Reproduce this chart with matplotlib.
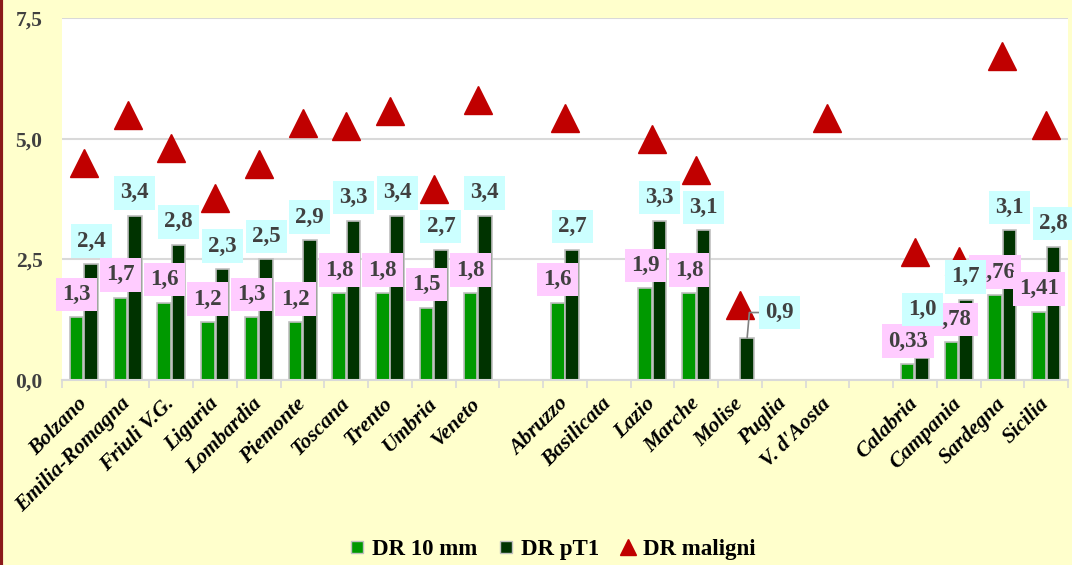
import matplotlib

matplotlib.use("Agg")
import matplotlib.pyplot as plt
from matplotlib.lines import Line2D
import numpy as np

plt.rcParams["font.family"] = ["Liberation Serif", "DejaVu Serif"]

# regions, with blank slots separating the three groups
regions = [
    "Bolzano", "Emilia-Romagna", "Friuli V.G.", "Liguria", "Lombardia", "Piemonte",
    "Toscana", "Trento", "Umbria", "Veneto", "",
    "Abruzzo", "Basilicata", "Lazio", "Marche", "Molise", "Puglia", "V. d'Aosta", "",
    "Calabria", "Campania", "Sardegna", "Sicilia",
]
nan = np.nan
dr_10mm = [1.3, 1.7, 1.6, 1.2, 1.3, 1.2, 1.8, 1.8, 1.5, 1.8, nan,
           1.6, nan, 1.9, 1.8, nan, nan, nan, nan,
           0.33, 0.78, 1.76, 1.41]
dr_pt1 = [2.4, 3.4, 2.8, 2.3, 2.5, 2.9, 3.3, 3.4, 2.7, 3.4, nan,
          2.7, nan, 3.3, 3.1, 0.88, nan, nan, nan,
          0.46, 1.66, 3.1, 2.76]
dr_maligni = [4.5, 5.5, 4.8, 3.78, 4.48, 5.33, 5.27, 5.57, 3.95, 5.8, nan,
              5.43, nan, 5.0, 4.35, 1.55, nan, 5.43, nan,
              2.65, 2.46, 6.71, 5.29]
lab_10mm = ["1,3", "1,7", "1,6", "1,2", "1,3", "1,2", "1,8", "1,8", "1,5", "1,8", "",
            "1,6", "", "1,9", "1,8", "", "", "", "",
            "0,33", "0,78", "1,76", "1,41"]
lab_pt1 = ["2,4", "3,4", "2,8", "2,3", "2,5", "2,9", "3,3", "3,4", "2,7", "3,4", "",
           "2,7", "", "3,3", "3,1", "0,9", "", "", "",
           "1,0", "1,7", "3,1", "2,8"]
y_ticks = [0.0, 2.5, 5.0, 7.5]

C_10MM = "#009900"
C_PT1 = "#003300"
C_MAL = "#C00000"
BG = "#FFFFCC"
GRID = "#D9D9D9"
LAB_TXT = "#404040"

x = np.arange(len(regions))
w = 0.31

fig = plt.figure(figsize=(10.72, 5.65), dpi=100, facecolor=BG)
ax = fig.add_axes([62 / 1072, 1 - 380 / 565, 1006 / 1072, 362 / 565])
ax.set_facecolor("white")

ax.bar(x - 0.165, dr_10mm, w, color=C_10MM, edgecolor="#BFBFBF", lw=1.2, zorder=2)
ax.bar(x + 0.165, dr_pt1, w, color=C_PT1, edgecolor="#BFBFBF", lw=1.2, zorder=2)
ax.plot(x, dr_maligni, ls="none", marker="^", ms=19.5, color=C_MAL, zorder=3)

ax.set_xlim(-0.5, len(regions) - 0.5)
ax.set_ylim(0, 7.5)
ax.set_yticks(y_ticks)
ax.set_yticklabels([f"{v:.1f}".replace(".", ",") for v in y_ticks])
ax.tick_params(axis="y", length=0, pad=14, labelsize=15.5, labelcolor=LAB_TXT)
for t in ax.get_yticklabels():
    t.set_fontweight("bold")
ax.grid(axis="y", color=GRID, lw=1.5, zorder=0)
ax.set_axisbelow(True)

ax.set_xticks(x)
ax.set_xticklabels(regions, rotation=45, ha="right", va="center",
                   rotation_mode="anchor", fontsize=15.5, fontweight="bold", style="italic")
ax.tick_params(axis="x", length=0, pad=15)
ax.set_xticks(np.arange(len(regions) + 1) - 0.5, minor=True)
ax.tick_params(axis="x", which="minor", length=6, width=1.2, color=GRID)

for s in ["left", "right", "top"]:
    ax.spines[s].set_visible(False)
ax.spines["bottom"].set_color(GRID)
ax.spines["bottom"].set_linewidth(1.5)

# data labels: DR 10 mm first, DR pT1 drawn over them (overlaps as in the original)
lab_kw = dict(textcoords="offset pixels", ha="center", va="center", fontsize=16.5,
              fontweight="bold", color=LAB_TXT, annotation_clip=False)
for i, (v, s) in enumerate(zip(dr_10mm, lab_10mm)):
    if s:
        ax.annotate(s, (x[i] - 0.165, v), xytext=(0, 23), zorder=5,
                    bbox=dict(boxstyle="square,pad=0.27", fc="#FFCCFF", ec="none"), **lab_kw)
for i, (v, s) in enumerate(zip(dr_pt1, lab_pt1)):
    if not s:
        continue
    off = (0, 23)
    extra = {}
    if regions[i] == "Calabria":
        off = (0, 48)
    if regions[i] == "Molise":
        off = (32, 25)
        extra = dict(arrowprops=dict(arrowstyle="-", color="#808080", lw=1.2,
                                     shrinkA=0, shrinkB=0,
                                     connectionstyle="angle,angleA=0,angleB=85,rad=0"))
    ax.annotate(s, (x[i] + 0.165, v), xytext=off, zorder=6,
                bbox=dict(boxstyle="square,pad=0.27", fc="#CCFFFF", ec="none"),
                **lab_kw, **extra)

handles = [
    Line2D([], [], ls="none", marker="s", ms=9, color=C_10MM, mec="#BFBFBF", mew=1),
    Line2D([], [], ls="none", marker="s", ms=9, color=C_PT1, mec="#BFBFBF", mew=1),
    Line2D([], [], ls="none", marker="^", ms=11, color=C_MAL),
]
fig.legend(handles, ["DR 10 mm", "DR pT1", "DR maligni"], loc="center",
           bbox_to_anchor=(0.515, 0.027), ncol=3, frameon=False,
           prop=dict(weight="bold", size=16.5), handlelength=0.7, handletextpad=0.3,
           columnspacing=0.9)

fig.add_artist(Line2D([0.001, 0.001], [0, 1], transform=fig.transFigure,
                      color="#8B1A1A", lw=3))

fig.savefig("out.png", dpi=100, facecolor=BG)
